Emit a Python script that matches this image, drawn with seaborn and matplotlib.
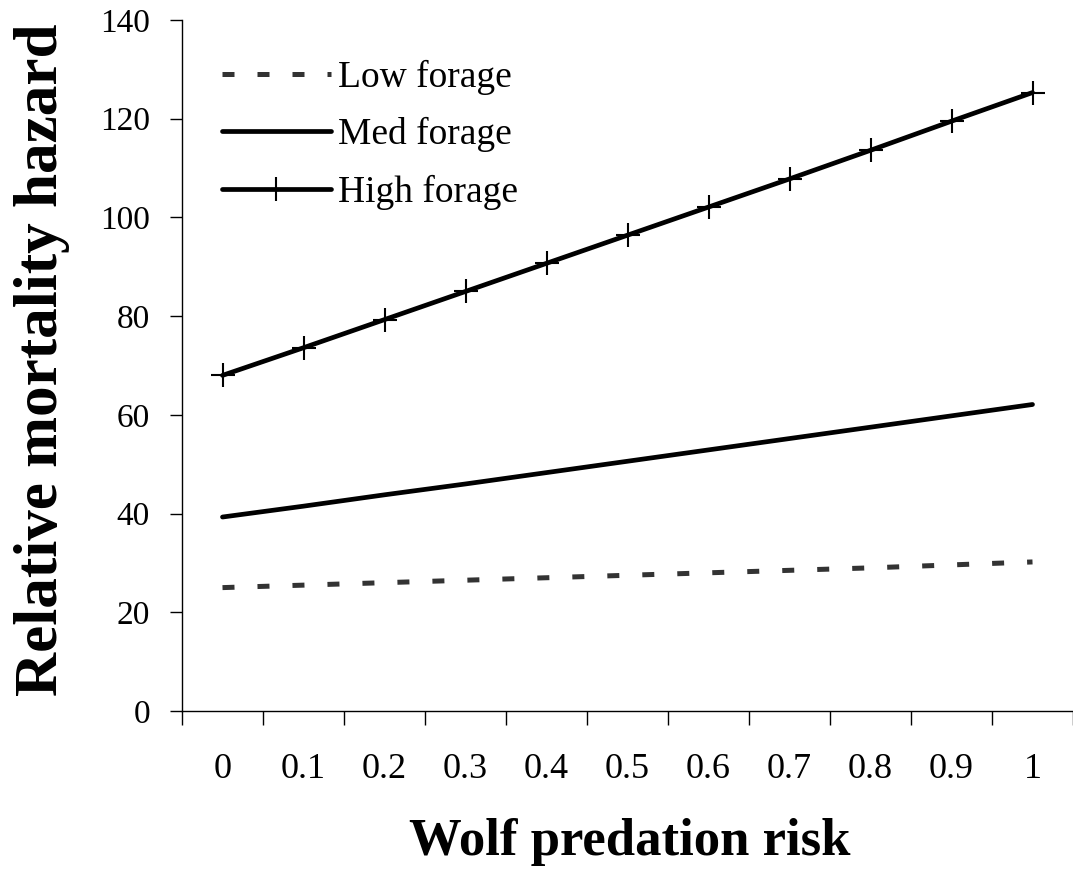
import matplotlib
matplotlib.use("Agg")
import matplotlib.pyplot as plt
import seaborn as sns
import pandas as pd
import numpy as np

risk_labels = ["0", "0.1", "0.2", "0.3", "0.4", "0.5", "0.6", "0.7", "0.8", "0.9", "1"]
low_forage = [25.0, 25.5, 26.0, 26.5, 27.0, 27.5, 28.0, 28.5, 29.0, 29.6, 30.2]
med_forage = [39.3, 41.5, 43.8, 46.0, 48.3, 50.6, 52.9, 55.2, 57.5, 59.8, 62.1]
high_forage = [68.0, 73.6, 79.3, 85.0, 90.7, 96.4, 102.1, 107.8, 113.6, 119.5, 125.3]

sns.set_theme(style="white")
plt.rcParams["font.family"] = ["Liberation Serif", "DejaVu Serif"]
plt.rcParams["text.color"] = "black"
plt.rcParams["axes.labelcolor"] = "black"
plt.rcParams["xtick.color"] = "black"
plt.rcParams["ytick.color"] = "black"

fig = plt.figure(figsize=(10.73, 8.71), dpi=100)
W, H = 1073, 871
ax = fig.add_axes([182 / W, 1 - 711 / H, (1073 - 182) / W, (711 - 20) / H])

pos = np.arange(len(risk_labels))
df = pd.DataFrame({"pos": pos, "Low": low_forage, "Med": med_forage, "High": high_forage})

sns.lineplot(data=df, x="pos", y="Low", ax=ax, color="#333333", lw=3.6,
             label="Low forage")
ax.lines[-1].set_dashes([2.4, 4.6])
ax.lines[-1].set_dash_capstyle("butt")
sns.lineplot(data=df, x="pos", y="Med", ax=ax, color="black", lw=3.4,
             label="Med forage")
sns.lineplot(data=df, x="pos", y="High", ax=ax, color="black", lw=3.4,
             marker="+", markersize=17, markeredgewidth=1.5,
             markeredgecolor="black", label="High forage")

ax.set_xlim(-0.5, 10.40)
ax.set_ylim(0, 140)
ax.set_yticks(np.arange(0, 141, 20))
ax.set_yticklabels([str(v) for v in range(0, 141, 20)], fontsize=24)

ax.set_xticks(np.arange(-0.5, 11, 1.0))
ax.set_xticklabels([])
ax.set_xticks(pos, minor=True)
ax.set_xticklabels(risk_labels, minor=True, fontsize=26)
ax.tick_params(axis="x", which="major", direction="out", length=10, width=1,
               color="black", bottom=True)
ax.tick_params(axis="x", which="minor", length=0, pad=30)
ax.tick_params(axis="y", direction="out", length=9, width=1, color="black",
               left=True, pad=14)

for s in ["top", "right"]:
    ax.spines[s].set_visible(False)
for s in ["left", "bottom"]:
    ax.spines[s].set_color("black")
    ax.spines[s].set_linewidth(1)

ax.set_xlabel("Wolf predation risk", fontsize=38, fontweight="bold")
ax.xaxis.set_label_coords(0.503, -0.155)
ax.set_ylabel("Relative mortality hazard", fontsize=44, fontweight="bold")
ax.yaxis.set_label_coords(-0.126, 0.508)

leg = ax.legend(loc="upper left", bbox_to_anchor=(0.045, 0.942), frameon=False,
                fontsize=27, handlelength=2.9, handletextpad=0.2,
                labelspacing=0.59, borderaxespad=0, borderpad=0)
for txt in leg.get_texts():
    txt.set_color("black")

fig.savefig("out.png", dpi=100, facecolor="white")
